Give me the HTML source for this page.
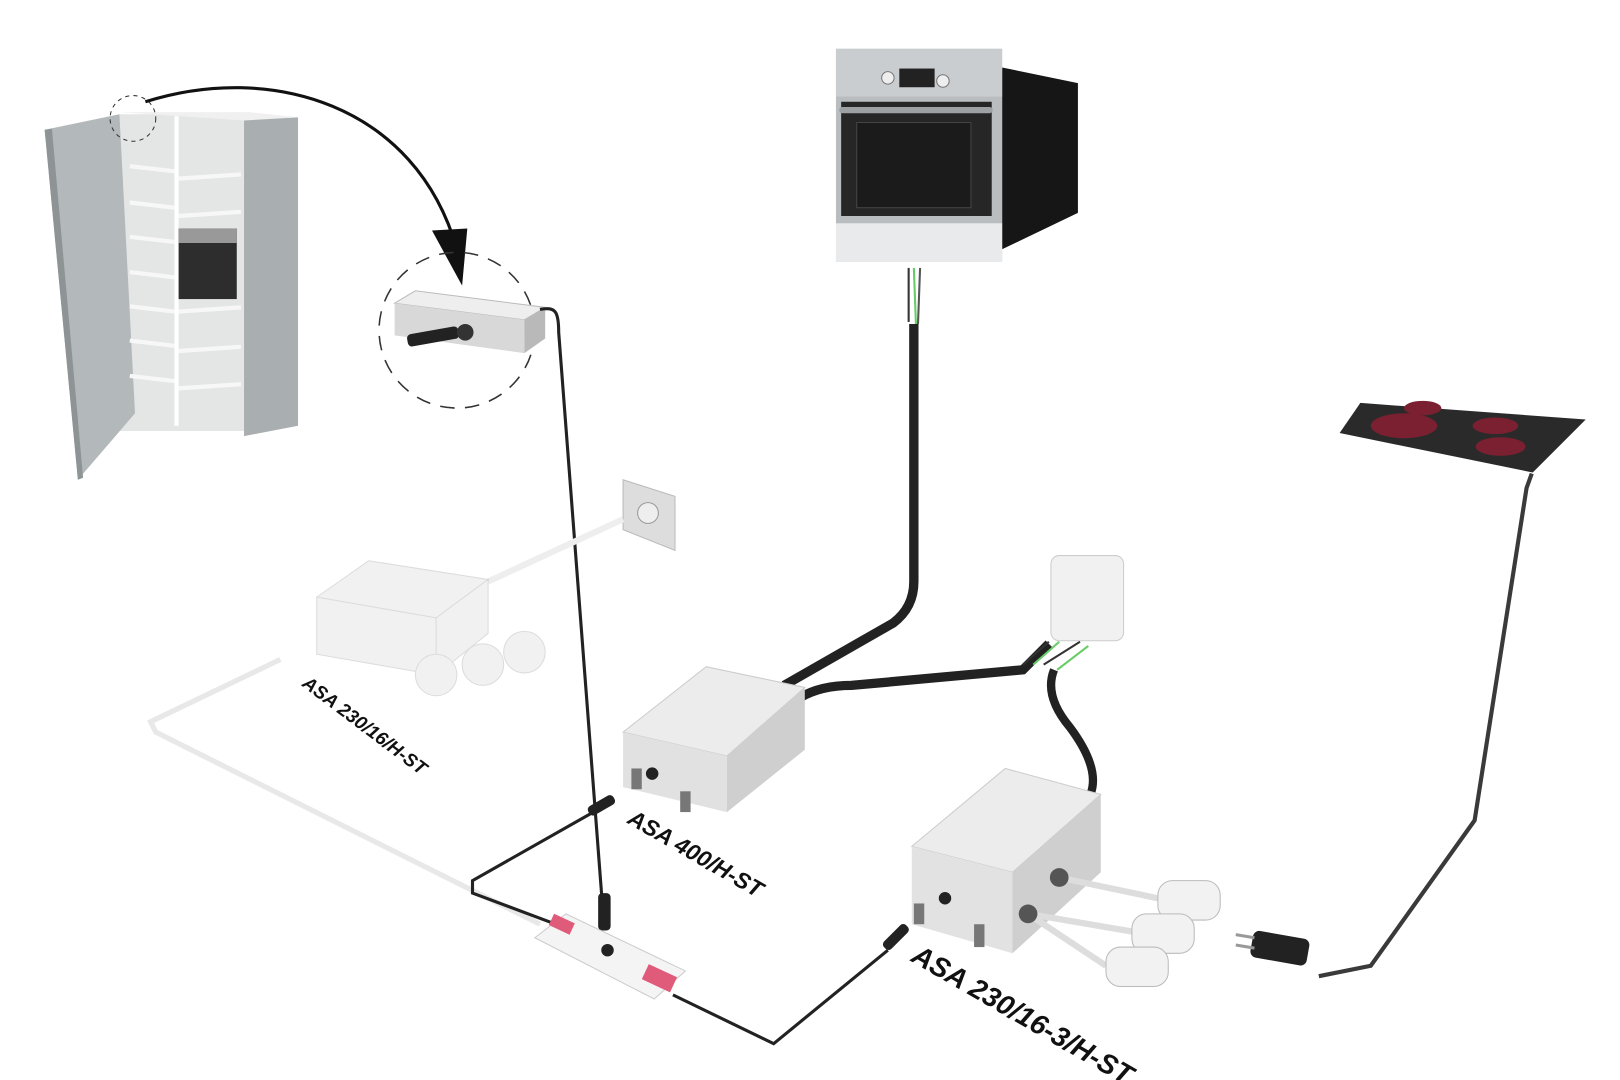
<!DOCTYPE html>
<html><head><meta charset="utf-8"><style>
html,body{margin:0;padding:0;background:#fff;width:1620px;height:1080px;overflow:hidden}
svg{display:block}
text{font-family:"Liberation Sans",sans-serif;font-weight:bold;font-style:italic}
</style></head><body>
<svg width="1620" height="1080" viewBox="0 0 1560 1040" preserveAspectRatio="none">
<!-- cabinet -->
<polygon points="115,110 235,110 235,415 115,415" fill="#e4e6e6"/>
<polygon points="235,115 287,113 287,410 235,420" fill="#a9aeb0"/>
<polygon points="115,108 240,108 287,113 235,116" fill="#f0f0f0"/>
<polygon points="43,125 115,110 130,398 75,462" fill="#b3b8ba"/>
<polygon points="43,125 50,124 80,460 75,462" fill="#8e9496"/>
<line x1="170" y1="112" x2="170" y2="410" stroke="#fff" stroke-width="4"/>
<g stroke="#f7f7f7" stroke-width="4">
<line x1="125" y1="160" x2="168" y2="165"/><line x1="125" y1="195" x2="168" y2="200"/><line x1="125" y1="228" x2="168" y2="233"/>
<line x1="125" y1="262" x2="168" y2="267"/><line x1="125" y1="295" x2="168" y2="300"/><line x1="125" y1="328" x2="168" y2="333"/>
<line x1="125" y1="362" x2="168" y2="367"/><line x1="172" y1="172" x2="232" y2="168"/><line x1="172" y1="208" x2="232" y2="204"/>
<line x1="172" y1="300" x2="232" y2="296"/><line x1="172" y1="338" x2="232" y2="334"/><line x1="172" y1="374" x2="232" y2="370"/></g>
<rect x="172" y="220" width="56" height="68" fill="#2d2d2d"/>
<rect x="172" y="220" width="56" height="14" fill="#999"/>
<circle cx="128" cy="114" r="22" fill="none" stroke="#333" stroke-dasharray="4,4"/>
<!-- curved arrow -->
<path d="M140,98 C260,60 400,100 440,240" fill="none" stroke="#111" stroke-width="3"/>
<polygon points="416,222 450,220 445,275" fill="#111"/>
<!-- dashed circle box -->
<circle cx="440" cy="318" r="75" fill="none" stroke="#333" stroke-width="1.5" stroke-dasharray="14,10"/>
<polygon points="380,292 400,280 525,296 505,308" fill="#eee" stroke="#bbb"/>
<polygon points="380,292 505,308 505,340 380,323" fill="#d8d8d8"/>
<polygon points="505,308 525,296 525,326 505,340" fill="#b9b9b9"/>
<rect x="392" y="318" width="50" height="12" rx="4" fill="#222" transform="rotate(-10 417 324)"/>
<circle cx="448" cy="320" r="8" fill="#333"/>
<path d="M520,298 C535,295 538,300 538,320 L580,870" fill="none" stroke="#222" stroke-width="3"/>
<rect x="576" y="860" width="12" height="36" rx="4" fill="#222"/>
<!-- oven -->
<polygon points="965,65 1038,80 1038,205 965,240" fill="#161616"/>
<rect x="805" y="47" width="160" height="205" fill="#b9bdc0"/>
<rect x="805" y="47" width="160" height="46" fill="#c9cdd0"/>
<rect x="866" y="66" width="34" height="18" fill="#222"/>
<circle cx="855" cy="75" r="6" fill="#eee" stroke="#777"/><circle cx="908" cy="78" r="6" fill="#eee" stroke="#777"/>
<rect x="810" y="98" width="145" height="110" fill="#262626"/>
<rect x="825" y="118" width="110" height="82" fill="#1b1b1b" stroke="#444"/>
<rect x="808" y="103" width="148" height="6" rx="3" fill="#9da1a4"/>
<rect x="805" y="215" width="160" height="37" fill="#e8eaeb"/>
<!-- oven wires & cable -->
<g stroke-width="2" fill="none"><path d="M875,258 L875,310" stroke="#333"/><path d="M880,258 L882,312" stroke="#6c6"/><path d="M886,258 L884,312" stroke="#555"/></g>
<path d="M880,312 L880,560 Q880,585 860,600 L755,660" fill="none" stroke="#222" stroke-width="9"/>
<!-- hob -->
<polygon points="1310,388 1527,404 1476,455 1290,417" fill="#2a2a2a"/>
<ellipse cx="1352" cy="410" rx="32" ry="12" fill="#7a2030"/>
<ellipse cx="1370" cy="393" rx="18" ry="7" fill="#7a2030"/>
<ellipse cx="1440" cy="410" rx="22" ry="8" fill="#7a2030"/>
<ellipse cx="1445" cy="430" rx="24" ry="9" fill="#7a2030"/>
<path d="M1475,456 L1470,470 L1420,790 L1320,930 L1270,940" fill="none" stroke="#3a3a3a" stroke-width="4"/>
<rect x="1205" y="900" width="55" height="26" rx="6" fill="#222" transform="rotate(10 1232 913)"/>
<line x1="1190" y1="900" x2="1208" y2="903" stroke="#999" stroke-width="3"/><line x1="1190" y1="910" x2="1208" y2="913" stroke="#999" stroke-width="3"/>
<!-- wall socket faded -->
<polygon points="600,462 650,478 650,530 600,510" fill="#ddd" stroke="#bbb"/>
<circle cx="624" cy="494" r="10" fill="#eee" stroke="#999"/>
<path d="M600,500 L470,560" stroke="#eee" stroke-width="6"/>
<!-- faded ASA 230/16 -->
<g opacity="0.4" fill="#ddd" stroke="#aaa">
<polygon points="305,575 355,540 470,558 420,595"/>
<polygon points="305,575 420,595 420,650 305,630"/>
<polygon points="420,595 470,558 470,610 420,650"/>
<circle cx="420" cy="650" r="20"/><circle cx="465" cy="640" r="20"/><circle cx="505" cy="628" r="20"/>
</g>
<path d="M270,635 L145,695 L150,705 L520,890" fill="none" stroke="#e8e8e8" stroke-width="5"/>
<text x="290" y="660" font-size="18" transform="rotate(37 290 660)" fill="#111">ASA 230/16/H-ST</text>
<!-- wall box right -->
<rect x="1012" y="535" width="70" height="82" rx="8" fill="#f1f1f1" stroke="#ccc"/>
<!-- ASA 400 -->
<path d="M770,672 Q790,660 820,660 L985,645 L1010,620" fill="none" stroke="#222" stroke-width="9"/>
<g stroke-width="2" fill="none"><path d="M985,640 L1010,618" stroke="#333"/><path d="M995,640 L1020,618" stroke="#6c6"/><path d="M1005,640 L1040,618" stroke="#333"/><path d="M1018,645 L1048,622" stroke="#6c6"/></g>
<polygon points="600,705 680,642 775,662 700,728" fill="#ececec" stroke="#ccc"/>
<polygon points="600,705 700,728 700,782 600,758" fill="#e1e1e1"/>
<polygon points="700,728 775,662 775,722 700,782" fill="#cfcfcf"/>
<circle cx="628" cy="745" r="6" fill="#222"/>
<rect x="608" y="740" width="10" height="20" fill="#777"/><rect x="655" y="762" width="10" height="20" fill="#777"/>
<text x="603" y="792" font-size="22" transform="rotate(30 603 792)" fill="#111">ASA 400/H-ST</text>
<!-- ASA 230/16-3 -->
<path d="M1015,645 Q1005,670 1030,700 Q1060,740 1050,765" fill="none" stroke="#222" stroke-width="8"/>
<polygon points="878,815 968,740 1060,765 975,840" fill="#ececec" stroke="#ccc"/>
<polygon points="878,815 975,840 975,918 878,890" fill="#e2e2e2"/>
<polygon points="975,840 1060,765 1060,840 975,918" fill="#cfcfcf"/>
<circle cx="910" cy="865" r="6" fill="#222"/>
<rect x="880" y="870" width="10" height="20" fill="#777"/><rect x="938" y="890" width="10" height="22" fill="#777"/>
<g stroke="#ddd" stroke-width="6" fill="none"><path d="M1020,845 L1115,865"/><path d="M990,880 L1090,897"/><path d="M990,880 L1065,930"/></g>
<g fill="#f2f2f2" stroke="#bbb">
<rect x="1115" y="848" width="60" height="38" rx="14"/><rect x="1090" y="880" width="60" height="38" rx="14"/><rect x="1065" y="912" width="60" height="38" rx="14"/></g>
<circle cx="1020" cy="845" r="9" fill="#555"/><circle cx="990" cy="880" r="9" fill="#555"/>
<text x="876" y="925" font-size="27" transform="rotate(30 876 925)" fill="#111">ASA 230/16-3/H-ST</text>
<!-- splitter -->
<path d="M575,780 L455,848 L455,860 L530,888" fill="none" stroke="#222" stroke-width="3"/>
<rect x="565" y="770" width="28" height="10" rx="4" fill="#222" transform="rotate(-30 580 775)"/>
<polygon points="515,903 545,880 660,935 630,962" fill="#f4f4f4" stroke="#ccc"/>
<rect x="530" y="884" width="22" height="12" fill="#e05a7a" transform="rotate(25 541 890)"/>
<rect x="620" y="934" width="30" height="16" fill="#e05a7a" transform="rotate(25 635 942)"/>
<circle cx="585" cy="915" r="6" fill="#222"/>
<path d="M648,958 L745,1005 L855,915" fill="none" stroke="#222" stroke-width="3"/>
<rect x="848" y="898" width="30" height="10" rx="4" fill="#222" transform="rotate(-45 862 903)"/>
</svg>
</body></html>
